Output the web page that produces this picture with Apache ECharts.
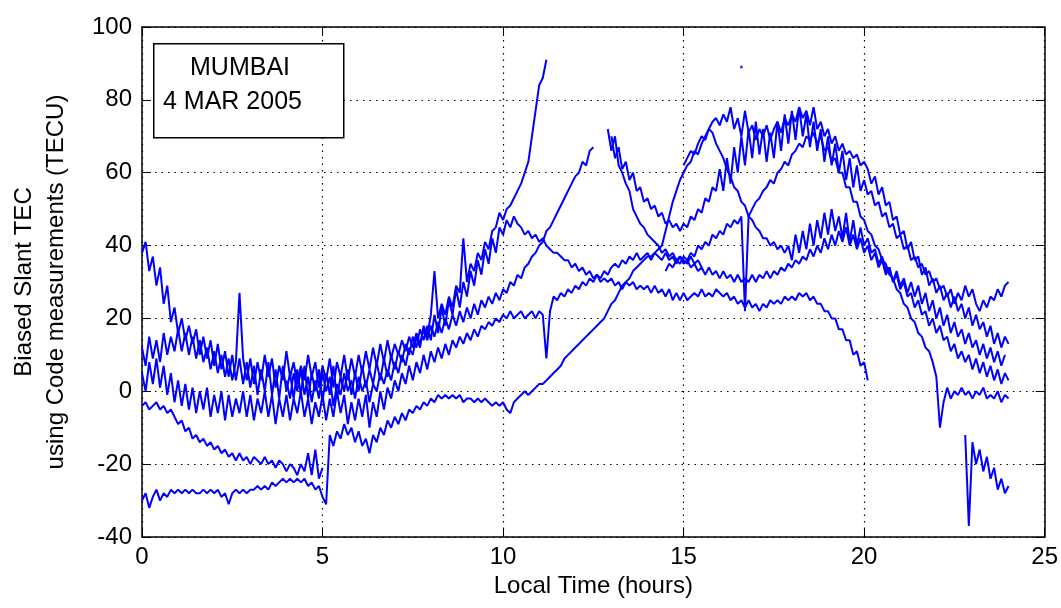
<!DOCTYPE html>
<html>
<head>
<meta charset="utf-8">
<title>MUMBAI 4 MAR 2005 - Biased Slant TEC</title>
<script src="https://cdn.jsdelivr.net/npm/echarts@6/dist/echarts.min.js"></script>
<style>
  html, body { margin: 0; padding: 0; background: #fff; }
  #chart { width: 1061px; height: 608px; }
</style>
</head>
<body>
<div id="chart"></div>
<script>
// sampling step of every trace (hours)
var STEP = 0.1;

var xTicks = [0, 5, 10, 15, 20, 25];
var yTicks = [-40, -20, 0, 20, 40, 60, 80, 100];

// each trace: start time (h) + values every STEP hours
var s01Start = 0.0;
var s01 = [38,41,33,37,29,34,24,29,19,23,16,20,14,18,13,
  17,10,15,9,14,7,13,6,11,4,10,3,9,2,8,
  1,7,-1,6,0,8,-1,6,-2,7,0,5,-2,6,-1,
  7,-2,5,0,6,-3,5,-1,7,-2,4,0,6,-1,5,
  0,7,1,6,2,8,3,9,4,10,
  6,11,8,13,10,15,12,17,14,18,
  14,21,16,23,18,25,21,28,23,30,26,33,29,36,32,39,35,42,38,45,
  43,47,45,48,46,45,43,44,42,43,41,42,40,39,38,38,37,36,36,34,
  35,33,34,32,33,31,32,30,31,30,31,29,30,28,30,29,30,28,29,28,
  29,27,29,27,28,26,28,25,27,25,27,25,26,27,26,28,26,27,26,28,
  27,26,27,25,26,24,25,23,25,23,24,22,24,23,25,24,25,24,26,25,
  26,25,27,26,27,25,26,24,24,22,22,20,20,17,17,14,14,10,11,7,8,3];

var s02Start = 0.0;
var s02 = [12,7,15,9,14,8,16,10,15,11,17,11,16,10,15,
  9,14,8,12,6,11,5,10,4,9,3,8,27,9,3,
  9,2,8,3,10,4,9,1,7,3,11,4,8,2,7,
  3,10,4,8,1,7,3,9,1,8,4,10,3,9,4,
  10,5,11,6,12,7,13,8,14,9,
  13,10,14,11,15,12,16,13,17,14,
  18,15,19,16,20,17,21,18,22,19,23,20,24,21,25,23,26,24,27,25,
  28,27,30,29,32,31,34,35,37,38,40,41,44,45,47,49,51,53,55,57,
  59,60,63,62,66,67];

var s03Start = 0.0;
var s03 = [5,0,8,2,9,1,7,-1,5,-3,3,-4,2,-5,1,
  -6,0,-5,1,-7,-1,-6,0,-8,-1,-7,-2,-6,0,-7,
  -1,-8,-2,-6,0,-7,-1,-9,-2,-7,-1,-8,-2,-6,0,
  -7,-2,-9,-3,-7,-1,-8,-2,-7,0,-6,-1,-9,-3,-8,
  -2,-7,-1,-10,-3,-7,0,-5,1,-2,
  3,0,5,2,7,3,8,5,10,6,
  11,8,12,9,13,10,14,12,15,13,16,14,17,15,18,17,19,18,20,19,
  21,20,22,20,21,22,20,21,22,20,22,21,9,22,26,25,27,26,28,27,
  29,28,30,29,31,30,32,31,33,32,34,35,34,36,35,37,36,38,36,37,
  38,36,38,37,36,38,36,37,35,37,36,35,37,35,36,34];

var s04Start = 0.0;
var s04 = [-4,-3,-5,-4,-3,-5,-4,-6,-5,-7,-9,-8,-11,-10,-13,-12,-14,-13,-15,-14,
  -16,-15,-17,-16,-18,-17,-19,-17,-19,-18,-20,-18,-19,-20,-18,-20,-19,-21,-19,-20,
  -22,-20,-21,-23,-20,-22,-17,-23,-16,-24,-21];

var s05Start = 0.0;
var s05 = [-30,-28,-32,-29,-27,-30,-28,-29,-27,-28,-27,-28,-27,-28,-27,-28,-28,-27,-28,-27,
  -28,-27,-29,-28,-31,-28,-27,-28,-27,-28,-27,-27,-26,-27,-26,-27,-25,-26,-25,-24,
  -25,-24,-25,-24,-25,-24,-26,-25,-27,-26,-29,-31,
  -12,-15,-11,-13,-9,-12,-10,-14,-11,-15,-13,-17,-12,-14,-10,-12,-8,-10,-7,-9,
  -6,-8,-5,-6,-4,-5,-3,-4,-2,-3,-1,-2,-1,-2,-1,-2,-1,-3,-2,-2,
  -3,-2,-3,-2,-3,-4,-3,-4,-3,-5,-6,-3,-2,-1,0,-1,0,1,2,2,
  3,4,5,6,7,9,10,11,12,13,14,15,16,17,18,19,20,22,24,25,
  27,29,30,31,33,34,35,36,37,37,38,39,40,44,48,52,55,58,60,62,
  63,66,65,68,70,72,74,75,73,76,74,78,72,75,70,77,71,73,69,72,
  70,73,69,72,74,71,75,73,76,74,78,75,77,73,78,72,74,70,72,68,
  70,66,68,65,66,64,65,62,63,61,57,59,54,56,51,52,47,48,43,44,
  39,41,36,37,32,34,29,31,27,29,25,27,23,26,22,24,20,23,18,21,
  17,19,15,18,13,16,12,15,13];

var s07Start = 4.0;
var s07 = [3,-2,5,0,6,-1,4,-3,3,-2,5,0,4,-4,2,-1,5,0,3,-2,
  4,0,3,-3,2,0,5,2,6,3,8,5,10,7,12,10,15,12,18,15,
  21,33,20,24,21,26,23,29,27,42,30,35,33,38,36,41,39,44,45,49,
  47,50,51,53,55,57,60,63,70,77,84,86,91];

var s08Start = 12.9;
var s08 = [72,66,70,62,60,57,55,50,48,46,45,43,42,41,40,38,39,37,38,36,
  37,35,36,34,35,33,34,32,34,32,33,31,33,31,32,30,32,30,31,30,
  32,30,32,31,33,31,33,32,34,33,35,34,36,35,37,36,39,37,40,38,
  42,39,43,40,44,41,45,40,43,39,42,38,40,36,38,34,36,32,34,30,
  33,29,31,27,30,26,29,24,27,22,25,20,23,18,21,16,19,15,17,13,
  16,12,14,10,13,9,12,8,11,7,10];

var s09Start = 13.0;
var s09 = [70,64,67,61,63,58,60,55,56,52,53,50,51,48,49,46,47,45,46,44,
  46,45,48,47,50,49,53,52,56,55,
  61,55,64,57,67,60,70,62,72,64,
  74,65,72,63,71,64,74,66,76,68,
  77,69,78,70,76,67,74,66,72,63,
  70,62,68,60,66,58,64,56,62,55,
  58,54,55,51,52,48,49,45,46,42,
  43,39,40,36,37,34,35,32,33,30,31,28,29,26,28,24,27,25,29,26,
  28,24,22,25,23,26,25,28,26,29,30];

var s10Start = 15.0;
var s10 = [62,64,66,65,68,70,69,72,71,68,66,64,61,59,56,55,52,51,48,47,
  45,44,42,42,40,41,39,40,38,40,
  36,43,38,44,39,46,40,47,42,49,
  43,50,44,48,42,49,41,47,40,45,
  40,42,38,39,35,37,33,34,30,32,
  28,30,26,27,23,25,21,22,18,20,16,18,14,15,11,13,9,11,8,10,
  6,9,5,8,4,7,3,6,2,5,3];

var s11Start = 14.5;
var s11 = [33,35,34,36,35,37,36,38,37,40,39,41,40,43,42,44,43,46,45,47,
  46,48,22,48,50,52,53,55,56,58,57,60,61,63,62,65,66,68,67,70,
  69,71,68,70,66,67,63,64,60,60,56,56,52,52,48,47,44,43,40,39,
  36,35,32,31,28,27,24,23,20,19,16,15,12,11,8,4,-10,-3,1,-2,
  0,-1,1,-1,0,-2,0,-1,1,-2,-1,-2,0,-3,-1,-2];

var s12Start = 22.8;
var s12 = [-12,-37,-14,-20,-16,-22,-18,-24,-21,-27,-24,-28,-26];

// isolated sample
var lonePoint = [[16.6, 89]];

var traces = [
  [s01Start, s01], [s02Start, s02], [s03Start, s03], [s04Start, s04],
  [s05Start, s05], [s07Start, s07], [s08Start, s08], [s09Start, s09],
  [s10Start, s10], [s11Start, s11], [s12Start, s12]
];

function toPairs(start, values) {
  var out = [];
  for (var i = 0; i < values.length; i++) {
    out.push([+(start + i * STEP).toFixed(2), values[i]]);
  }
  return out;
}

var FONT = '"Liberation Sans", Arial, sans-serif';
var BLUE = '#0000ff';

var series = [];
for (var k = 0; k < traces.length; k++) {
  series.push({
    type: 'line',
    data: toPairs(traces[k][0], traces[k][1]),
    showSymbol: false,
    symbol: 'none',
    lineStyle: { color: BLUE, width: 2 },
    clip: true,
    silent: true
  });
}
series.push({
  type: 'scatter',
  data: lonePoint,
  symbolSize: 3,
  itemStyle: { color: BLUE },
  silent: true
});

var chart = echarts.init(document.getElementById('chart'));

var option = {
  animation: false,
  backgroundColor: '#fff',
  grid: { left: 134, right: 14, top: 27, bottom: 71, containLabel: false },
  xAxis: [{
    type: 'value',
    min: xTicks[0],
    max: xTicks[xTicks.length - 1],
    interval: 5,
    position: 'bottom',
    name: 'Local Time (hours)',
    nameLocation: 'middle',
    nameGap: 34,
    nameTextStyle: { fontFamily: FONT, fontSize: 24, color: '#000' },
    axisLine: { onZero: false, lineStyle: { color: '#000', width: 1.5 } },
    axisTick: { inside: true, length: 9, lineStyle: { color: '#000' } },
    axisLabel: { fontFamily: FONT, fontSize: 24, color: '#000', margin: 8 },
    splitLine: { show: true, lineStyle: { color: '#000', type: [1.5, 5], width: 1.2 } }
  }, {
    type: 'value',
    min: xTicks[0],
    max: xTicks[xTicks.length - 1],
    interval: 5,
    position: 'top',
    axisLine: { onZero: false, lineStyle: { color: '#000', width: 1.5 } },
    axisTick: { inside: true, length: 9, lineStyle: { color: '#000' } },
    axisLabel: { show: false },
    splitLine: { show: false }
  }],
  yAxis: [{
    type: 'value',
    min: yTicks[0],
    max: yTicks[yTicks.length - 1],
    interval: 20,
    position: 'left',
    name: 'Biased Slant TEC\nusing Code measurements (TECU)',
    nameLocation: 'middle',
    nameGap: 70,
    nameRotate: 90,
    nameTextStyle: { fontFamily: FONT, fontSize: 24, color: '#000', lineHeight: 32 },
    axisLine: { onZero: false, lineStyle: { color: '#000', width: 1.5 } },
    axisTick: { inside: true, length: 9, lineStyle: { color: '#000' } },
    axisLabel: { fontFamily: FONT, fontSize: 24, color: '#000', margin: 10 },
    splitLine: { show: true, lineStyle: { color: '#000', type: [1.5, 5], width: 1.2 } }
  }, {
    type: 'value',
    min: yTicks[0],
    max: yTicks[yTicks.length - 1],
    interval: 20,
    position: 'right',
    axisLine: { onZero: false, lineStyle: { color: '#000', width: 1.5 } },
    axisTick: { inside: true, length: 9, lineStyle: { color: '#000' } },
    axisLabel: { show: false },
    splitLine: { show: false }
  }],
  graphic: [{
    type: 'rect',
    left: 153,
    top: 43,
    shape: { width: 190, height: 94 },
    style: { fill: '#fff', stroke: '#000', lineWidth: 1.5 },
    z: 100
  }, {
    type: 'text',
    left: 190,
    top: 56,
    style: { text: 'MUMBAI', font: '25px ' + FONT, fill: '#000' },
    z: 101
  }, {
    type: 'text',
    left: 163,
    top: 90,
    style: { text: '4 MAR 2005', font: '25px ' + FONT, fill: '#000' },
    z: 101
  }],
  series: series
};

chart.setOption(option);
</script>
</body>
</html>
